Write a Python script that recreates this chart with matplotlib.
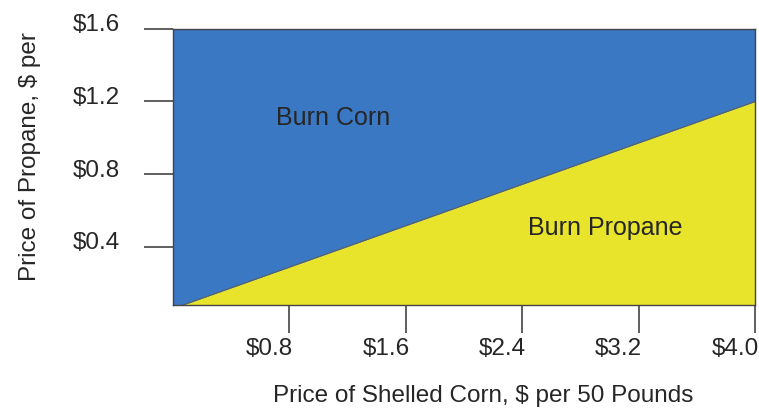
import numpy as np
import matplotlib.pyplot as plt
import matplotlib.transforms as mtransforms

plt.rcParams['font.family'] = ['Liberation Sans', 'DejaVu Sans']

# break-even line between the two fuels
break_corn = [0.0, 4.0]
break_propane = [0.06, 1.2]

x_ticks = [0.8, 1.6, 2.4, 3.2, 4.0]
x_labels = ['$0.8', '$1.6', '$2.4', '$3.2', '$4.0']
y_ticks = [0.4, 0.8, 1.2, 1.6]
y_labels = ['$0.4', '$0.8', '$1.2', '$1.6']

blue = '#3b78c3'
yellow = '#e8e42c'
txt = '#262626'

fig = plt.figure(figsize=(7.59, 4.12), dpi=100)
ax = fig.add_axes([0.228, 0.26, 0.767, 0.67])

ax.set_xlim(0, 4.0)
ax.set_ylim(0.08, 1.6)
ax.set_facecolor(blue)
ax.fill_between(break_corn, break_propane, 0, color=yellow, linewidth=0)
ax.plot(break_corn, break_propane, color='#55606a', linewidth=0.8)

ax.text(1.1, 1.072, 'Burn Corn', fontsize=18, color=txt, ha='center', va='baseline')
ax.text(2.97, 0.466, 'Burn Propane', fontsize=18, color=txt, ha='center', va='baseline')

ax.set_xticks(x_ticks)
ax.set_xticklabels(x_labels)
ax.set_yticks(y_ticks)
ax.set_yticklabels(y_labels)
ax.tick_params(axis='x', length=20, width=1.2, color='#444444', pad=4,
               labelsize=17.5, labelcolor=txt)
ax.tick_params(axis='y', length=21, width=1.2, color='#444444', pad=17,
               labelsize=17.5, labelcolor=txt)

# labels sit a bit left of / above their ticks in the original
for lab in ax.get_xticklabels():
    lab.set_transform(lab.get_transform() +
                      mtransforms.ScaledTranslation(-20 / 100, 0, fig.dpi_scale_trans))
for lab in ax.get_yticklabels():
    lab.set_transform(lab.get_transform() +
                      mtransforms.ScaledTranslation(0, 6 / 100, fig.dpi_scale_trans))

for s in ax.spines.values():
    s.set_color('#444444')
    s.set_linewidth(1.0)

ax.set_xlabel('Price of Shelled Corn, $ per 50 Pounds', fontsize=17.5, color=txt)
ax.xaxis.set_label_coords(0.533, -0.29)
ax.set_ylabel('Price of Propane, $ per', fontsize=17.5, color=txt)
ax.yaxis.set_label_coords(-0.226, 0.536)

fig.savefig('out.png', dpi=100)
